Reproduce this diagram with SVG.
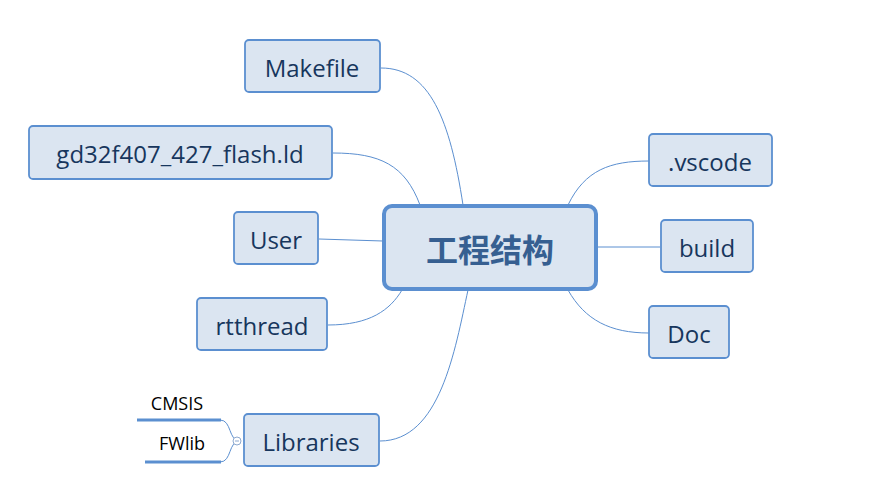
<svg xmlns="http://www.w3.org/2000/svg" width="872" height="500" viewBox="0 0 872 500">
<style>
.n rect{fill:#dbe5f1;stroke:#5b8fd0;stroke-width:1.8}
.n text{font-family:"Segoe UI","Open Sans","Noto Sans",sans-serif;font-size:24px;fill:#17365d;text-anchor:middle;dominant-baseline:central}
.c path{fill:none;stroke:#5b8fd0;stroke-width:1}
.s text{font-family:"Open Sans","Noto Sans",sans-serif;font-size:18px;fill:#000;text-anchor:middle}
</style>
<rect width="872" height="500" fill="#fff"/>
<g class="c">
<path d="M381,68 C430,68 450,120 463,205"/>
<path d="M333,153 C380,153 405,165 420,205"/>
<path d="M319,239 L383,241"/>
<path d="M328,325 C370,325 390,310 402,290"/>
<path d="M380,441 C440,441 455,350 468,290"/>
<path d="M649,161 C610,161 585,170 568,205"/>
<path d="M660,247 L597,247"/>
<path d="M649,333 C610,333 585,320 568,290"/>
<path d="M240,441 C228,441 232,420 220,420 M240,441 C228,441 232,462 220,462"/>
</g>
<g class="s">
<path d="M137,420 H221 M145,462 H221" stroke="#5b8fd0" stroke-width="3"/>
<circle cx="237" cy="441" r="4" fill="#fff" stroke="#8ea9cf"/>
<path d="M235,441 H239" stroke="#8ea9cf"/>
<text x="177" y="410">CMSIS</text>
<text x="182" y="450">FWlib</text>
</g>
<g id="center" class="n"><rect x="384" y="206" width="212" height="83" rx="8" style="stroke-width:4;stroke:#5b8fd0"/><text x="490" y="248" style="font-family:'Noto Sans CJK SC',sans-serif;font-size:32px;font-weight:bold;fill:#365f91">工程结构</text></g>
<g id="makefile" class="n"><rect x="245" y="40" width="135" height="52" rx="4"/><text x="312" y="67">Makefile</text></g>
<g id="ld" class="n"><rect x="29" y="126" width="303" height="53" rx="4"/><text x="180" y="153">gd32f407_427_flash.ld</text></g>
<g id="user" class="n"><rect x="234" y="212" width="84" height="52" rx="4"/><text x="276" y="239">User</text></g>
<g id="rtt" class="n"><rect x="197" y="298" width="130" height="52" rx="4"/><text x="262" y="325">rtthread</text></g>
<g id="lib" class="n"><rect x="244" y="414" width="135" height="52" rx="4"/><text x="311" y="441">Libraries</text></g>
<g id="vscode" class="n"><rect x="649" y="134" width="123" height="52" rx="4"/><text x="710" y="161">.vscode</text></g>
<g id="build" class="n"><rect x="661" y="220" width="92" height="52" rx="4"/><text x="707" y="247">build</text></g>
<g id="doc" class="n"><rect x="649" y="306" width="80" height="52" rx="4"/><text x="689" y="333">Doc</text></g>
</svg>
